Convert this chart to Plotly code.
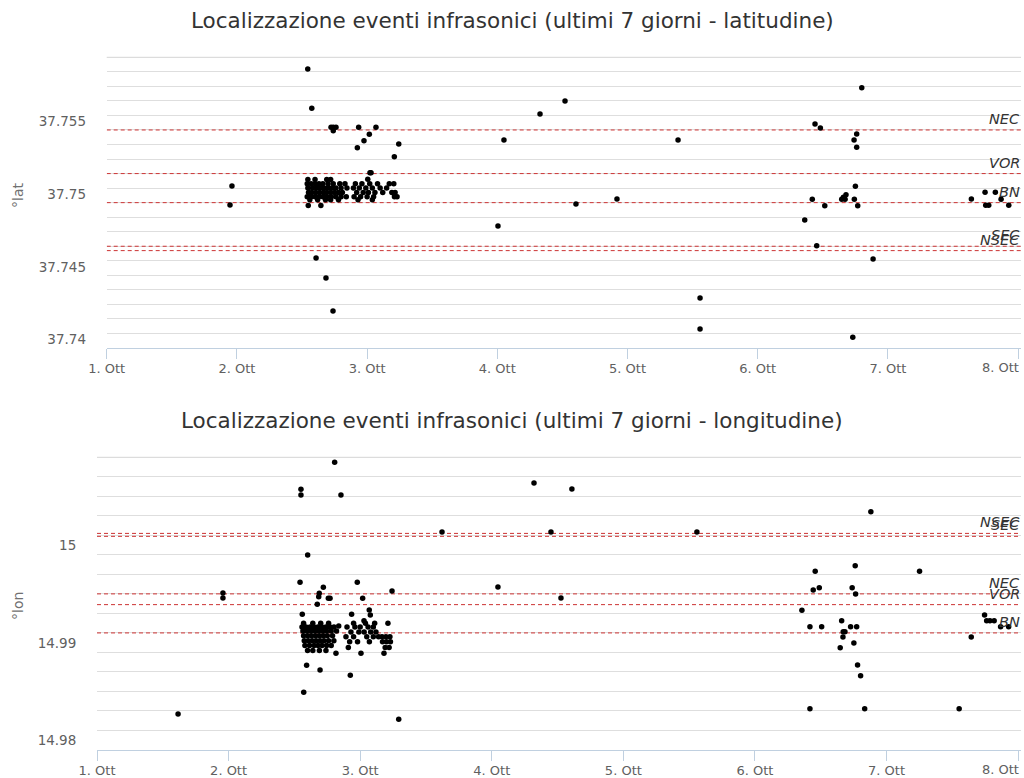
import numpy as np
import pandas as pd
import plotly.graph_objects as go

# ---------------------------------------------------------------- data
MONTH_START = pd.Timestamp("2015-10-01")

# reference vents (dashed lines)
stations = ["NEC", "VOR", "BN", "SEC", "NSEC"]
station_lat = [37.7540, 37.7510, 37.7490, 37.7460, 37.7457]
station_lon = [14.9940, 14.9929, 14.9900, 14.9999, 15.0002]

# x ticks: day of month
day_ticks = [1, 2, 3, 4, 5, 6, 7, 8]
day_tick_text = ["1. Ott", "2. Ott", "3. Ott", "4. Ott", "5. Ott", "6. Ott", "7. Ott", "8. Ott"]

# events: (day of month, latitude)
lat_events = [
    (1.962, 37.75015), (1.947, 37.74884),
    (2.544, 37.75820), (2.575, 37.75549),
    (2.723, 37.75418), (2.740, 37.75418), (2.761, 37.75418), (2.740, 37.75395),
    (2.935, 37.75418), (3.068, 37.75418), (3.017, 37.75370), (2.976, 37.75326),
    (2.925, 37.75278), (3.243, 37.75304), (3.209, 37.75216),
    (3.022, 37.75106), (3.030, 37.75106), (3.005, 37.75061),
    (2.608, 37.74519), (2.684, 37.74382), (2.738, 37.74155),
    # main swarm, 2-3 Oct
    (2.545, 37.7506), (2.600, 37.7506), (2.690, 37.7506), (2.720, 37.7506),
    (2.540, 37.7503), (2.570, 37.7503), (2.600, 37.7503), (2.630, 37.7503), (2.660, 37.7503),
    (2.700, 37.7503), (2.740, 37.7503), (2.790, 37.7503), (2.830, 37.7503),
    (2.545, 37.7500), (2.580, 37.7500), (2.610, 37.7500), (2.640, 37.7500), (2.670, 37.7500),
    (2.700, 37.7500), (2.730, 37.7500), (2.760, 37.7500), (2.800, 37.7500), (2.845, 37.7500),
    (2.550, 37.7497), (2.575, 37.7497), (2.605, 37.7497), (2.635, 37.7497), (2.665, 37.7497),
    (2.690, 37.7497), (2.720, 37.7497), (2.750, 37.7497), (2.780, 37.7497), (2.810, 37.7497),
    (2.540, 37.7494), (2.570, 37.7494), (2.600, 37.7494), (2.630, 37.7494), (2.660, 37.7494),
    (2.690, 37.7494), (2.725, 37.7494), (2.760, 37.7494), (2.800, 37.7494), (2.840, 37.7494),
    (2.560, 37.7492), (2.620, 37.7492), (2.680, 37.7492), (2.720, 37.7492), (2.780, 37.7492),
    (2.548, 37.7488), (2.645, 37.7488),
    (2.910, 37.7503), (2.960, 37.7503), (3.020, 37.7503), (3.080, 37.7503), (3.170, 37.7503),
    (3.205, 37.7503),
    (2.895, 37.7500), (2.940, 37.7500), (2.990, 37.7500), (3.040, 37.7500), (3.100, 37.7500),
    (3.150, 37.7500),
    (2.920, 37.7497), (2.970, 37.7497), (3.010, 37.7497), (3.060, 37.7497), (3.120, 37.7497),
    (3.190, 37.7497), (3.215, 37.7497),
    (2.900, 37.7494), (2.950, 37.7494), (3.000, 37.7494), (3.050, 37.7494), (3.210, 37.7494),
    (3.230, 37.7494),
    (2.930, 37.7492), (3.040, 37.7492),
    # 4-5 Oct
    (4.051, 37.75331), (4.005, 37.74739), (4.328, 37.75510), (4.520, 37.75599),
    (4.604, 37.74890), (4.919, 37.74925), (5.388, 37.75331),
    (5.557, 37.74244), (5.557, 37.74031),
    # 6-7 Oct
    (6.799, 37.75691), (6.440, 37.75441), (6.481, 37.75414), (6.760, 37.75372),
    (6.740, 37.75331), (6.760, 37.75281), (6.750, 37.75013), (6.678, 37.74955),
    (6.645, 37.74923), (6.671, 37.74923), (6.658, 37.74937), (6.419, 37.74923),
    (6.742, 37.74923), (6.515, 37.74879), (6.768, 37.74879), (6.361, 37.74781),
    (6.453, 37.74604), (6.886, 37.74512), (6.730, 37.73974),
    # 7-8 Oct
    (7.641, 37.74925), (7.746, 37.74971), (7.825, 37.74971), (7.869, 37.74923),
    (7.751, 37.74882), (7.774, 37.74882), (7.928, 37.74882),
]

# events: (day of month, longitude)
lon_events = [
    (1.616, 14.98169), (1.957, 14.99409), (1.957, 14.99358),
    (2.806, 15.00749), (2.550, 15.00472), (2.550, 15.00414), (2.854, 15.00414),
    (2.601, 14.99799), (2.543, 14.99519), (2.978, 14.99519), (2.720, 14.99468),
    (2.689, 14.99406), (2.685, 14.99371), (2.674, 14.99293), (2.758, 14.99355),
    (2.771, 14.99355), (3.019, 14.99355), (3.242, 14.99430), (2.560, 14.99191),
    (2.935, 14.99191), (3.069, 14.99235), (3.077, 14.99184), (3.029, 14.99125),
    (3.211, 14.99099), (2.837, 14.99071), (2.816, 14.98791), (3.006, 14.98791),
    (3.181, 14.98791), (2.593, 14.98668), (2.695, 14.98620), (2.925, 14.98566),
    (2.571, 14.98392), (3.293, 14.98115),
    # main swarm, 2-3 Oct
    (2.570, 14.9910), (2.640, 14.9910), (2.700, 14.9910), (2.760, 14.9910),
    (2.558, 14.9906), (2.588, 14.9906), (2.619, 14.9906), (2.649, 14.9906), (2.679, 14.9906),
    (2.710, 14.9906), (2.740, 14.9906), (2.771, 14.9906), (2.801, 14.9906),
    (2.565, 14.9902), (2.595, 14.9902), (2.625, 14.9902), (2.655, 14.9902), (2.685, 14.9902),
    (2.715, 14.9902), (2.745, 14.9902), (2.780, 14.9902), (2.820, 14.9902),
    (2.570, 14.9897), (2.600, 14.9897), (2.630, 14.9897), (2.660, 14.9897), (2.690, 14.9897),
    (2.720, 14.9897), (2.750, 14.9897), (2.790, 14.9897),
    (2.575, 14.9892), (2.605, 14.9892), (2.635, 14.9892), (2.665, 14.9892), (2.695, 14.9892),
    (2.725, 14.9892), (2.760, 14.9892), (2.800, 14.9892),
    (2.580, 14.9887), (2.615, 14.9887), (2.650, 14.9887), (2.680, 14.9887), (2.710, 14.9887),
    (2.745, 14.9887), (2.780, 14.9887),
    (2.600, 14.9882), (2.640, 14.9882), (2.690, 14.9882), (2.740, 14.9882),
    (2.950, 14.9910), (3.040, 14.9910), (3.110, 14.9910),
    (2.900, 14.9906), (2.960, 14.9906), (3.000, 14.9906), (3.060, 14.9906), (3.100, 14.9906),
    (2.930, 14.9901), (2.990, 14.9901), (3.030, 14.9901), (3.080, 14.9901), (3.120, 14.9901),
    (2.892, 14.9896), (2.950, 14.9896), (3.050, 14.9896), (3.100, 14.9896), (3.140, 14.9896),
    (3.166, 14.9896), (3.196, 14.9896), (3.226, 14.9896),
    (2.920, 14.9891), (2.980, 14.9891), (3.070, 14.9891), (3.170, 14.9891), (3.200, 14.9891),
    (3.230, 14.9891),
    (2.910, 14.9885), (3.190, 14.9885), (3.220, 14.9885),
    # 3-5 Oct
    (3.622, 15.00034), (4.450, 15.00034), (5.559, 15.00034),
    (4.047, 14.99471), (4.526, 14.99358), (4.321, 15.00537), (4.609, 15.00475),
    # 6-7 Oct
    (6.881, 15.00242), (6.458, 14.99632), (6.762, 14.99689), (7.251, 14.99632),
    (6.443, 14.99440), (6.489, 14.99464), (6.739, 14.99464), (6.765, 14.99399),
    (6.357, 14.99232), (6.418, 14.99064), (6.507, 14.99064), (6.659, 14.99125),
    (6.727, 14.99064), (6.773, 14.99064), (6.671, 14.99013), (6.684, 14.99013),
    (6.669, 14.98958), (6.752, 14.98897), (6.648, 14.98849), (6.780, 14.98671),
    (6.803, 14.98562), (6.418, 14.98223), (6.834, 14.98223), (7.552, 14.98223),
    # 7-8 Oct
    (7.745, 14.99184), (7.761, 14.99125), (7.786, 14.99125), (7.818, 14.99125),
    (7.644, 14.98958), (7.867, 14.99064), (7.928, 14.99064),
]


def day_to_time(days):
    """Day of month (fractional) -> timestamp."""
    return MONTH_START + pd.to_timedelta(np.asarray(days, dtype=float) - 1.0, unit="D")


# ---------------------------------------------------------------- style
FONT = "DejaVu Sans"
GRID = "#DEDEDE"
AXIS = "#C0D0E0"
LINE_RED = "#CC3333"
LABEL = "#606060"
W, H = 1024, 778

tick_times = day_to_time(day_ticks)
x_range = [day_to_time([1.0])[0], day_to_time([8.022])[0]]

fig = go.Figure()

panels = [
    dict(events=lat_events, ref=station_lat, xa="x", ya="y"),
    dict(events=lon_events, ref=station_lon, xa="x2", ya="y2"),
]

shapes, annotations = [], []
for p in panels:
    # dashed vent reference lines (drawn as traces so they sit above the grid)
    for name, v in zip(stations, p["ref"]):
        fig.add_trace(go.Scatter(
            x=x_range, y=[v, v], mode="lines",
            line=dict(color=LINE_RED, width=1, dash="4px,3px"),
            xaxis=p["xa"], yaxis=p["ya"], showlegend=False, hoverinfo="skip",
        ))
        annotations.append(dict(
            text=name, xref="paper", x=1022 / W, xanchor="right",
            yref=p["ya"], y=v, yanchor="middle", yshift=11, showarrow=False,
            font=dict(family=FONT, size=14.5, color="#333333", style="italic"),
        ))
    days, vals = zip(*p["events"])
    fig.add_trace(go.Scatter(
        x=day_to_time(days), y=list(vals), mode="markers",
        marker=dict(size=5.5, color="#000000", line=dict(width=0)),
        xaxis=p["xa"], yaxis=p["ya"], showlegend=False,
        hoverinfo="x+y",
    ))
    # upper border of the plot area
    shapes.append(dict(
        type="line", xref=p["xa"] + " domain", x0=0, x1=1,
        yref=p["ya"] + " domain", y0=1, y1=1,
        line=dict(color="#D4D4D4", width=1), layer="below",
    ))
    # last date label kept inside the plot edge
    annotations.append(dict(
        text=day_tick_text[-1], xref=p["xa"], x=tick_times[-1], xanchor="right", xshift=3,
        yref=p["ya"] + " domain", y=0, yanchor="top", yshift=-10, showarrow=False,
        font=dict(family=FONT, size=13, color=LABEL),
    ))

titles = [
    ("Localizzazione eventi infrasonici (ultimi 7 giorni - latitudine)", 20),
    ("Localizzazione eventi infrasonici (ultimi 7 giorni - longitudine)", 420),
]
for text, ypx in titles:
    annotations.append(dict(
        text=text, xref="paper", x=0.5, xanchor="center",
        yref="paper", y=1 - ypx / H, yanchor="middle", showarrow=False,
        font=dict(family=FONT, size=21.5, color="#333333"),
    ))

for text, ypx in [("°lat", 196), ("°lon", 606)]:
    annotations.append(dict(
        text=text, textangle=-90, xref="paper", x=18 / W, xanchor="center",
        yref="paper", y=1 - ypx / H, yanchor="middle", showarrow=False,
        font=dict(family=FONT, size=14, color="#707070"),
    ))

x_common = dict(
    type="date", range=x_range, tickmode="array", tickvals=tick_times,
    ticktext=day_tick_text[:-1] + [""], automargin=False,
    showgrid=False, zeroline=False, showline=True, linecolor=AXIS, linewidth=1,
    ticks="outside", ticklen=10, tickcolor=AXIS, tickwidth=1,
    ticklabelstandoff=-2,
    tickfont=dict(family=FONT, size=13, color=LABEL),
)
y_common = dict(
    showgrid=True, gridcolor=GRID, gridwidth=1, zeroline=False, showline=False,
    ticks="outside", ticklen=17, tickcolor="rgba(0,0,0,0)", automargin=False,
    tickfont=dict(family=FONT, size=13.5, color=LABEL),
)

fig.update_layout(
    width=W, height=H, autosize=False,
    margin=dict(l=0, r=0, t=0, b=0, autoexpand=False),
    paper_bgcolor="#FFFFFF", plot_bgcolor="#FFFFFF",
    font=dict(family=FONT),
    xaxis=dict(x_common, domain=[106.7 / W, 1021 / W], anchor="y"),
    xaxis2=dict(x_common, domain=[97 / W, 1021 / W], anchor="y2"),
    yaxis=dict(
        y_common, domain=[(H - 348) / H, (H - 57.3) / H], anchor="x",
        range=[37.739, 37.759], tickmode="linear", tick0=37.74, dtick=0.005,
        tickformat=".3~f", ticklabelshift=6,
        minor=dict(tick0=37.739, dtick=0.001, showgrid=True, gridcolor=GRID, gridwidth=1),
    ),
    yaxis2=dict(
        y_common, domain=[(H - 750) / H, (H - 457.3) / H], anchor="x2",
        range=[14.978, 15.008], tickmode="linear", tick0=14.98, dtick=0.01,
        tickformat=".2~f", ticklabelshift=10,
        minor=dict(tick0=14.978, dtick=0.002, showgrid=True, gridcolor=GRID, gridwidth=1),
    ),
    shapes=shapes,
    annotations=annotations,
)

fig.write_html("out.html")
